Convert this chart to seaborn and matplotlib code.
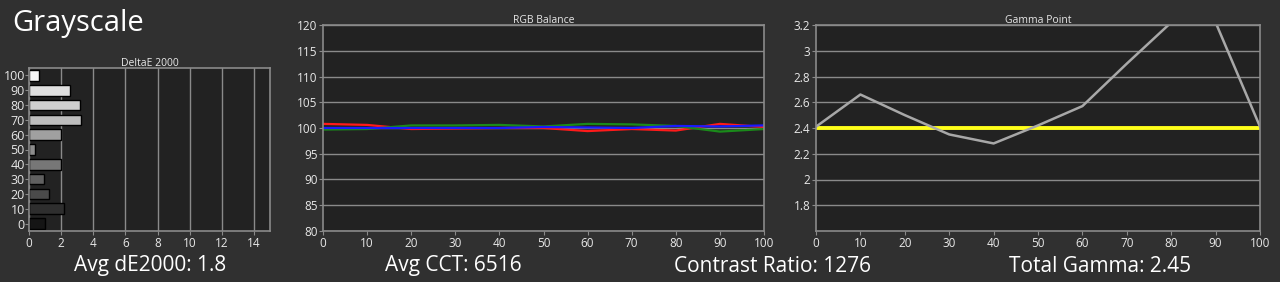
import matplotlib
matplotlib.use("Agg")
import matplotlib.pyplot as plt
import seaborn as sns
import pandas as pd
import numpy as np

# ---- data ----
de_levels = ["100", "90", "80", "70", "60", "50", "40", "30", "20", "10", "0"]
de_values = [0.6, 2.55, 3.2, 3.25, 2.0, 0.35, 2.0, 0.95, 1.25, 2.15, 1.0]
de_colors = ["#f4f4f4", "#e0e0e0", "#d0d0d0", "#bdbdbd", "#a0a0a0", "#8c8c8c",
             "#777777", "#606060", "#4a4a4a", "#2e2e2e", "#151515"]

levels = [0, 10, 20, 30, 40, 50, 60, 70, 80, 90, 100]
red_vals = [100.8, 100.6, 99.8, 99.9, 100.0, 100.0, 99.4, 99.8, 99.5, 100.8, 100.2]
green_vals = [99.7, 99.8, 100.5, 100.5, 100.6, 100.3, 100.8, 100.7, 100.4, 99.3, 99.8]
blue_vals = [100.0, 100.0, 100.0, 100.0, 100.0, 100.2, 100.1, 100.0, 100.4, 100.3, 100.5]

gamma_vals = [2.41, 2.66, 2.50, 2.35, 2.28, 2.42, 2.57, 2.90, 3.22, 3.22, 2.41]
gamma_target = [2.4] * len(levels)

bottom_texts = ["Avg dE2000: 1.8", "Avg CCT: 6516", "Contrast Ratio: 1276", "Total Gamma: 2.45"]
bottom_x = [150, 453, 773, 1100]

# ---- style ----
sns.set_style("dark")
plt.rcParams["font.family"] = ["Open Sans", "DejaVu Sans"]
BG = "#303030"
FACE = "#222222"
GRID = "#8a8a8a"
TXT = "#e8e8e8"

W, H = 1280, 282
fig = plt.figure(figsize=(W / 100, H / 100), dpi=100, facecolor=BG)


def add_ax(l, r, t, b):
    return fig.add_axes([l / W, (H - b) / H, (r - l) / W, (b - t) / H])


def style(ax, title):
    ax.set_facecolor(FACE)
    for s in ax.spines.values():
        s.set_color(GRID)
        s.set_linewidth(1.2)
        s.set_visible(True)
    ax.tick_params(colors=GRID, labelcolor=TXT, labelsize=8.5, length=3, width=0.8, direction="out",
                   bottom=True, left=True, pad=1)
    ax.set_title(title, color=TXT, fontsize=7.5, pad=1.5)
    ax.set_xlabel("")
    ax.set_ylabel("")


# Panel 1: DeltaE
ax1 = add_ax(29, 270, 68, 231)
df1 = pd.DataFrame({"level": de_levels, "de": de_values})
sns.barplot(data=df1, x="de", y="level", hue="level", order=de_levels, hue_order=de_levels,
            palette=de_colors, orient="h", width=0.72, edgecolor="black", linewidth=1.0,
            legend=False, ax=ax1)
style(ax1, "DeltaE 2000")
ax1.set_xlim(0, 15)
ax1.set_xticks(range(0, 15, 2))
ax1.grid(axis="x", color=GRID, linewidth=1.0)
ax1.grid(axis="y", visible=False)
ax1.set_axisbelow(True)
ax1.tick_params(axis="y", labelsize=9, pad=0)

# Panel 2: RGB Balance
ax2 = add_ax(323, 764, 25, 231)
df2 = pd.DataFrame({"x": levels * 3,
                    "y": red_vals + green_vals + blue_vals,
                    "c": ["R"] * 11 + ["G"] * 11 + ["B"] * 11})
sns.lineplot(data=df2, x="x", y="y", hue="c", palette={"R": "#ff1a1a", "G": "#1a8a1a", "B": "#1a1aff"},
             linewidth=1.6, legend=False, ax=ax2)
style(ax2, "RGB Balance")
ax2.set_xlim(0, 100)
ax2.set_ylim(80, 120)
ax2.set_xticks(range(0, 101, 10))
ax2.set_yticks(range(80, 121, 5))
ax2.grid(axis="y", color=GRID, linewidth=1.0)
ax2.grid(axis="x", visible=False)
ax2.set_axisbelow(True)

# Panel 3: Gamma Point
ax3 = add_ax(816, 1260, 25, 231)
sns.lineplot(x=levels, y=gamma_target, color="#ffff1a", linewidth=2.8, ax=ax3)
sns.lineplot(x=levels, y=gamma_vals, color="#a8a8a8", linewidth=1.8, ax=ax3)
style(ax3, "Gamma Point")
ax3.set_xlim(0, 100)
ax3.set_ylim(1.6, 3.2)
ax3.set_xticks(range(0, 101, 10))
ax3.set_yticks([1.8, 2.0, 2.2, 2.4, 2.6, 2.8, 3.0, 3.2])
ax3.set_yticklabels(["1.8", "2", "2.2", "2.4", "2.6", "2.8", "3", "3.2"])
ax3.grid(axis="y", color=GRID, linewidth=1.0)
ax3.grid(axis="x", visible=False)
ax3.set_axisbelow(True)

# Texts
fig.text(12 / W, 1 - 23 / H, "Grayscale", color="white", fontsize=21, va="center", ha="left")
for t, x in zip(bottom_texts, bottom_x):
    fig.text(x / W, 1 - 266 / H, t, color="white", fontsize=15, va="center", ha="center")

fig.savefig("out.png", dpi=100, facecolor=BG)
